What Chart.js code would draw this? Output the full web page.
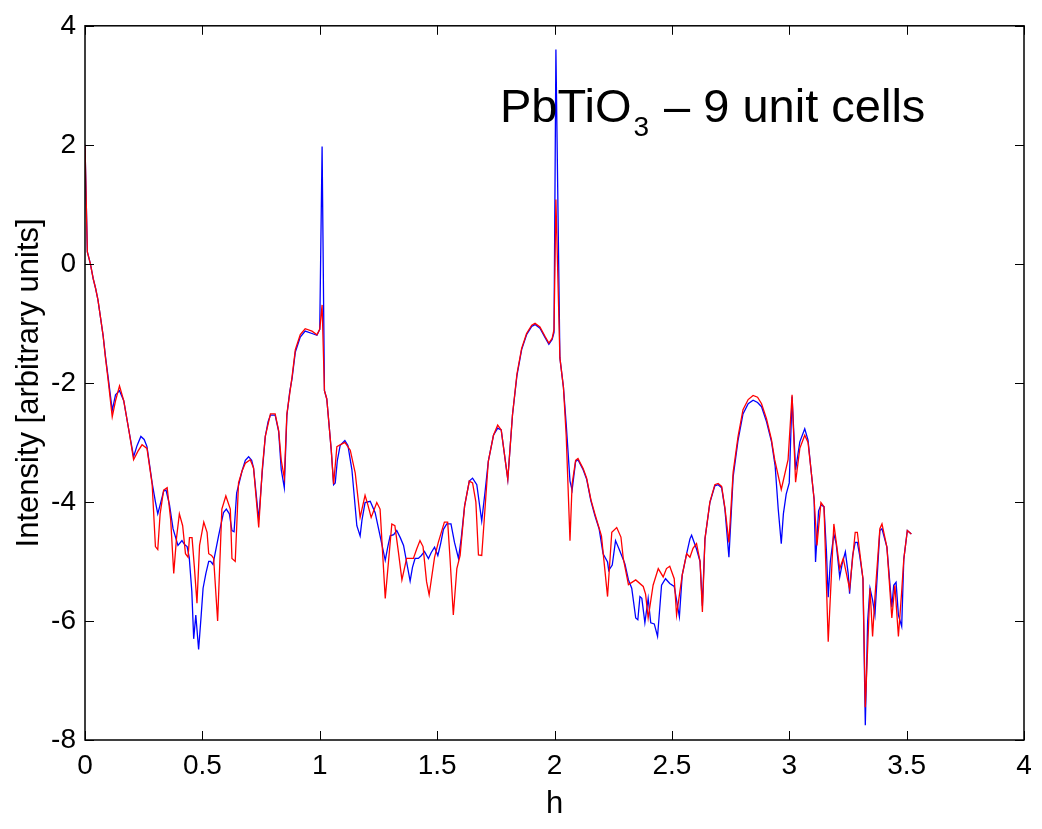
<!DOCTYPE html>
<html>
<head>
<meta charset="utf-8">
<script src="https://cdn.jsdelivr.net/npm/chart.js@4"></script>
<style>
  body { margin: 0; background: #fff; }
  #wrap { width: 1042px; height: 829px; }
</style>
</head>
<body>
<div id="wrap"><canvas id="chart"></canvas></div>
<script>
// valores (h, intensidad)
const hBlue = [
  0, 0.01, 0.023, 0.035, 0.045, 0.055, 0.066, 0.077, 0.087, 0.1,
  0.116, 0.13, 0.147, 0.165, 0.187, 0.207, 0.222, 0.238, 0.252, 0.264,
  0.286, 0.3, 0.31, 0.32, 0.335, 0.345, 0.36, 0.375, 0.396, 0.413,
  0.425, 0.435, 0.444, 0.455, 0.463, 0.472, 0.484, 0.495, 0.503, 0.515,
  0.527, 0.535, 0.545, 0.555, 0.569, 0.59, 0.602, 0.615, 0.626, 0.635,
  0.646, 0.669, 0.683, 0.697, 0.71, 0.718, 0.73, 0.74, 0.755, 0.768,
  0.78, 0.79, 0.81, 0.825, 0.836, 0.849, 0.86, 0.872, 0.882, 0.896,
  0.917, 0.938, 0.967, 0.988, 1.0, 1.01, 1.02, 1.03, 1.049, 1.059,
  1.066, 1.075, 1.087, 1.107, 1.12, 1.137, 1.158, 1.172, 1.18, 1.193,
  1.215, 1.236, 1.257, 1.279, 1.29, 1.3, 1.315, 1.328, 1.343, 1.357,
  1.385, 1.395, 1.406, 1.42, 1.433, 1.446, 1.463, 1.475, 1.489, 1.503,
  1.515, 1.527, 1.541, 1.559, 1.574, 1.591, 1.603, 1.617, 1.637, 1.651,
  1.669, 1.69, 1.705, 1.718, 1.74, 1.758, 1.773, 1.801, 1.821, 1.84,
  1.86, 1.881, 1.903, 1.917, 1.938, 1.96, 1.976, 1.99, 1.998, 2.006,
  2.023, 2.038, 2.05, 2.066, 2.075, 2.09, 2.1, 2.122, 2.137, 2.155,
  2.172, 2.19, 2.207, 2.226, 2.231, 2.246, 2.26, 2.275, 2.3, 2.315,
  2.329, 2.346, 2.355, 2.364, 2.372, 2.385, 2.399, 2.41, 2.425, 2.439,
  2.456, 2.473, 2.491, 2.51, 2.532, 2.544, 2.563, 2.577, 2.584, 2.605,
  2.62, 2.63, 2.641, 2.662, 2.683, 2.697, 2.712, 2.726, 2.743, 2.761,
  2.782, 2.803, 2.825, 2.846, 2.865, 2.882, 2.903, 2.924, 2.94, 2.953,
  2.966, 2.975, 2.987, 3.0, 3.012, 3.027, 3.045, 3.066, 3.08, 3.094,
  3.106, 3.112, 3.125, 3.135, 3.148, 3.158, 3.166, 3.175, 3.19, 3.2,
  3.215, 3.225, 3.239, 3.251, 3.257, 3.27, 3.281, 3.29, 3.3, 3.314,
  3.324, 3.334, 3.344, 3.355, 3.365, 3.386, 3.395, 3.416, 3.437, 3.445,
  3.455, 3.465, 3.479, 3.488, 3.503, 3.52
];
const intensityBlue = [
  2.0, 0.2, 0.0, -0.25, -0.41, -0.6, -0.9, -1.2, -1.55, -1.95,
  -2.46, -2.2, -2.13, -2.3, -2.8, -3.24, -3.05, -2.9, -2.95, -3.07,
  -3.68, -4.0, -4.2, -4.05, -3.82, -3.8, -4.05, -4.45, -4.73, -4.65,
  -4.72, -4.75, -4.93, -5.5, -6.3, -5.9, -6.48, -5.9, -5.45, -5.2,
  -5.0, -5.0, -5.05, -4.85, -4.57, -4.18, -4.12, -4.2, -4.48, -4.5,
  -3.85, -3.48, -3.3, -3.24, -3.3, -3.43, -3.9, -4.3, -3.5, -2.9,
  -2.65, -2.54, -2.54, -2.82, -3.46, -3.76, -2.55, -2.15, -1.93, -1.48,
  -1.23, -1.13, -1.17, -1.2, -1.1, 1.97, -2.13, -2.27, -3.13, -3.71,
  -3.68, -3.3, -3.05, -2.97, -3.05, -3.46, -4.4, -4.57, -4.3, -4.01,
  -3.99, -4.18, -4.57, -4.98, -4.75, -4.57, -4.55, -4.48, -4.6, -4.73,
  -5.33, -5.1, -4.95, -4.95, -4.9, -4.83, -4.95, -4.85, -4.76, -4.9,
  -4.7, -4.46, -4.37, -4.37, -4.68, -4.95, -4.6, -4.07, -3.65, -3.6,
  -3.71, -4.32, -3.8, -3.32, -2.88, -2.76, -2.79, -3.62, -2.54, -1.88,
  -1.44, -1.19, -1.05, -1.02, -1.08, -1.24, -1.35, -1.27, -1.15, 3.6,
  -1.58, -2.07, -2.7, -3.65, -3.8, -3.32, -3.29, -3.46, -3.62, -3.98,
  -4.23, -4.45, -4.87, -5.01, -5.15, -5.06, -4.65, -4.79, -5.04, -5.31,
  -5.45, -5.95, -5.98, -5.59, -5.62, -6.03, -5.62, -6.03, -6.05, -6.26,
  -5.4, -5.29, -5.37, -5.42, -5.93, -5.23, -4.87, -4.62, -4.56, -4.79,
  -5.0, -5.75, -4.62, -4.01, -3.73, -3.71, -3.76, -4.12, -4.93, -3.58,
  -2.96, -2.52, -2.35, -2.29, -2.33, -2.4, -2.65, -2.98, -3.4, -4.12,
  -4.7, -4.2, -3.87, -3.68, -2.23, -3.46, -2.99, -2.77, -2.96, -3.51,
  -3.96, -5.01, -4.15, -4.05, -4.08, -4.8, -5.6, -5.0, -4.54, -4.7,
  -5.26, -5.05, -4.84, -5.2, -5.54, -4.9, -4.68, -4.68, -4.9, -5.29,
  -7.75, -6.0, -5.45, -5.65, -5.9, -4.48, -4.45, -4.76, -5.77, -5.4,
  -5.35, -5.9, -6.09, -4.96, -4.48, -4.54
];

const hRed = [
  0, 0.01, 0.023, 0.035, 0.045, 0.055, 0.066, 0.077, 0.087, 0.1,
  0.116, 0.13, 0.147, 0.165, 0.187, 0.207, 0.225, 0.243, 0.264, 0.286,
  0.3, 0.31, 0.32, 0.335, 0.35, 0.365, 0.378, 0.39, 0.402, 0.416,
  0.428, 0.439, 0.445, 0.456, 0.466, 0.477, 0.488, 0.506, 0.52, 0.527,
  0.539, 0.548, 0.565, 0.583, 0.6, 0.619, 0.626, 0.64, 0.654, 0.669,
  0.683, 0.704, 0.718, 0.74, 0.755, 0.768, 0.79, 0.81, 0.825, 0.836,
  0.849, 0.86, 0.882, 0.896, 0.917, 0.938, 0.967, 0.988, 1.0, 1.01,
  1.02, 1.03, 1.049, 1.059, 1.073, 1.087, 1.107, 1.13, 1.151, 1.172,
  1.193, 1.205, 1.219, 1.243, 1.257, 1.279, 1.307, 1.32, 1.335, 1.35,
  1.37, 1.384, 1.399, 1.413, 1.427, 1.44, 1.455, 1.466, 1.489, 1.505,
  1.531, 1.545, 1.555, 1.569, 1.584, 1.598, 1.617, 1.637, 1.651, 1.665,
  1.676, 1.69, 1.718, 1.74, 1.758, 1.773, 1.801, 1.821, 1.84, 1.86,
  1.881, 1.903, 1.917, 1.938, 1.96, 1.976, 1.99, 1.998, 2.006, 2.023,
  2.038, 2.05, 2.066, 2.075, 2.09, 2.1, 2.122, 2.137, 2.155, 2.172,
  2.2, 2.226, 2.244, 2.265, 2.283, 2.293, 2.315, 2.346, 2.378, 2.388,
  2.399, 2.42, 2.442, 2.463, 2.477, 2.491, 2.51, 2.52, 2.544, 2.563,
  2.577, 2.59, 2.605, 2.62, 2.63, 2.641, 2.662, 2.683, 2.697, 2.712,
  2.726, 2.743, 2.761, 2.782, 2.803, 2.825, 2.846, 2.865, 2.882, 2.903,
  2.924, 2.938, 2.966, 2.995, 3.012, 3.027, 3.045, 3.066, 3.08, 3.094,
  3.106, 3.118, 3.135, 3.148, 3.166, 3.19, 3.215, 3.23, 3.257, 3.281,
  3.29, 3.314, 3.324, 3.344, 3.355, 3.365, 3.386, 3.395, 3.416, 3.437,
  3.45, 3.465, 3.479, 3.488, 3.503, 3.52
];
const intensityRed = [
  2.0, 0.2, 0.0, -0.25, -0.41, -0.6, -0.9, -1.2, -1.57, -2.0,
  -2.57, -2.3, -2.05, -2.3, -2.8, -3.29, -3.15, -3.04, -3.1, -3.7,
  -4.75, -4.8, -4.2, -3.8, -3.76, -4.3, -5.2, -4.6, -4.2, -4.4,
  -4.87, -4.93, -4.6, -4.6, -5.1, -5.7, -4.73, -4.34, -4.51, -4.87,
  -4.9, -4.95, -6.0, -4.12, -3.9, -4.12, -4.95, -5.0, -3.68, -3.48,
  -3.35, -3.29, -3.43, -4.43, -3.45, -2.9, -2.52, -2.52, -2.8, -3.3,
  -3.6, -2.52, -1.9, -1.44, -1.19, -1.09, -1.13, -1.19, -1.1, -0.69,
  -2.13, -2.27, -3.13, -3.7, -3.07, -3.04, -3.0, -3.13, -3.51, -4.26,
  -3.89, -4.05, -4.26, -4.01, -4.12, -5.62, -4.37, -4.4, -4.84, -5.31,
  -4.95, -4.95, -4.95, -4.79, -4.65, -4.75, -5.34, -5.56, -4.93, -4.68,
  -4.34, -4.34, -4.95, -5.9, -5.12, -4.9, -4.07, -3.65, -3.68, -4.0,
  -4.89, -4.9, -3.32, -2.88, -2.71, -2.79, -3.62, -2.54, -1.85, -1.42,
  -1.17, -1.03, -1.0, -1.06, -1.22, -1.33, -1.25, -1.1, 1.08, -1.58,
  -2.07, -2.9, -4.65, -3.7, -3.3, -3.27, -3.44, -3.6, -3.96, -4.2,
  -4.57, -5.59, -4.51, -4.43, -4.59, -4.95, -5.39, -5.31, -5.42, -5.55,
  -5.95, -5.4, -5.12, -5.26, -5.12, -5.08, -5.29, -5.9, -5.23, -4.87,
  -4.93, -4.78, -4.7, -5.0, -5.85, -4.62, -4.0, -3.71, -3.69, -3.74,
  -4.1, -4.68, -3.5, -2.9, -2.45, -2.28, -2.21, -2.24, -2.35, -2.6,
  -2.95, -3.29, -3.79, -3.29, -2.2, -3.67, -3.1, -2.88, -3.0, -3.51,
  -3.96, -4.73, -4.01, -4.08, -6.35, -4.37, -5.12, -4.95, -5.46, -4.51,
  -4.51, -5.29, -7.45, -5.45, -6.26, -5.6, -4.45, -4.37, -4.76, -5.95,
  -5.4, -6.26, -5.5, -4.96, -4.48, -4.54
];

const xTicks = [0, 0.5, 1, 1.5, 2, 2.5, 3, 3.5, 4];
const yTicks = [-8, -6, -4, -2, 0, 2, 4];

const FONT = "'Liberation Sans', Arial, Helvetica, sans-serif";

function toPoints(hs, vals) {
  return hs.map((h, i) => ({ x: h, y: vals[i] }));
}

// marco tipo matlab con ticks hacia adentro y titulo con subindice
const framePlugin = {
  id: "frame",
  afterDraw(chart) {
    const ctx = chart.ctx;
    const a = chart.chartArea;
    const xs = chart.scales.x;
    const ys = chart.scales.y;
    const len = 9;
    ctx.save();
    ctx.strokeStyle = "#000";
    ctx.lineWidth = 1;
    xTicks.forEach(v => {
      const px = Math.round(xs.getPixelForValue(v)) + 0.5;
      ctx.beginPath();
      ctx.moveTo(px, a.bottom); ctx.lineTo(px, a.bottom - len);
      ctx.moveTo(px, a.top); ctx.lineTo(px, a.top + len);
      ctx.stroke();
    });
    yTicks.forEach(v => {
      const py = Math.round(ys.getPixelForValue(v)) + 0.5;
      ctx.beginPath();
      ctx.moveTo(a.left, py); ctx.lineTo(a.left + len, py);
      ctx.moveTo(a.right, py); ctx.lineTo(a.right - len, py);
      ctx.stroke();
    });
    ctx.lineWidth = 1.5;
    ctx.strokeRect(a.left, a.top, a.right - a.left, a.bottom - a.top);

    // titulo dentro del area
    ctx.fillStyle = "#000";
    ctx.textBaseline = "alphabetic";
    ctx.textAlign = "left";
    let x = 500;
    const base = 122;
    ctx.font = "47px " + FONT;
    ctx.fillText("PbTiO", x, base);
    x += ctx.measureText("PbTiO").width + 2;
    ctx.font = "28px " + FONT;
    ctx.fillText("3", x, base + 14);
    x += ctx.measureText("3").width + 2;
    ctx.font = "47px " + FONT;
    ctx.fillText(" \u2013 9 unit cells", x, base);
    ctx.restore();
  }
};

new Chart(document.getElementById("chart"), {
  type: "scatter",
  data: {
    datasets: [
      {
        label: "red",
        data: toPoints(hRed, intensityRed),
        showLine: true,
        borderColor: "rgb(255, 0, 0)",
        borderWidth: 1.3,
        pointRadius: 0,
        tension: 0,
        order: 0
      },
      {
        label: "blue",
        data: toPoints(hBlue, intensityBlue),
        showLine: true,
        borderColor: "rgb(0, 0, 255)",
        borderWidth: 1.3,
        pointRadius: 0,
        tension: 0,
        order: 1
      }
    ]
  },
  options: {
    responsive: true,
    maintainAspectRatio: false,
    animation: false,
    layout: { padding: { left: 0, right: 18, top: 18, bottom: 0 } },
    plugins: {
      legend: { display: false },
      tooltip: { enabled: false }
    },
    scales: {
      x: {
        type: "linear",
        min: 0,
        max: 4,
        afterBuildTicks: s => { s.ticks = xTicks.map(v => ({ value: v })); },
        afterFit: s => { s.height = 89; },
        grid: { display: false, drawTicks: false },
        border: { display: false },
        ticks: {
          color: "#000",
          padding: 9,
          maxRotation: 0,
          callback: v => String(v),
          font: { family: FONT, size: 28 }
        },
        title: {
          display: true,
          text: "h",
          color: "#000",
          padding: { top: 0, bottom: 6 },
          font: { family: FONT, size: 31 }
        }
      },
      y: {
        min: -8,
        max: 4,
        afterBuildTicks: s => { s.ticks = yTicks.map(v => ({ value: v })); },
        afterFit: s => { s.width = 85; },
        grid: { display: false, drawTicks: false },
        border: { display: false },
        ticks: {
          color: "#000",
          padding: 9,
          callback: v => String(v),
          font: { family: FONT, size: 28 }
        },
        title: {
          display: true,
          text: "Intensity [arbitrary units]",
          color: "#000",
          padding: { top: 11, bottom: 0 },
          font: { family: FONT, size: 31 }
        }
      }
    }
  },
  plugins: [framePlugin]
});
</script>
</body>
</html>
